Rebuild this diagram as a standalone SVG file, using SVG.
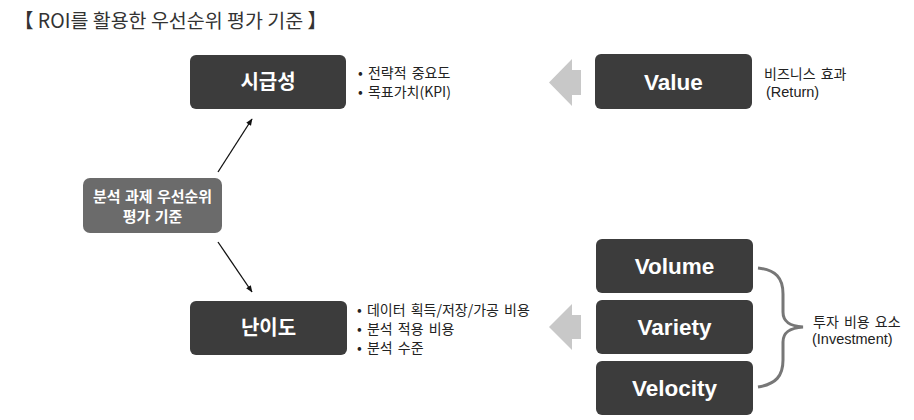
<svg xmlns="http://www.w3.org/2000/svg" width="914" height="420" viewBox="0 0 914 420">
<defs>
<marker id="ah" viewBox="0 0 10 10" refX="9" refY="5" markerWidth="7" markerHeight="7" orient="auto" markerUnits="userSpaceOnUse">
<path d="M0,1 L10,5 L0,9 z" fill="#111"/>
</marker>
</defs>
<style>
.box{fill:#3c3c3c;}
.cbox{fill:#6b6b6b;}
.kl{font-family:"Noto Sans CJK KR","Noto Sans",sans-serif;font-weight:700;font-size:20px;fill:#fff;text-anchor:middle;}
.el{font-family:"Liberation Sans",Arial,sans-serif;font-weight:700;font-size:22.5px;fill:#fff;text-anchor:middle;}
.ct{font-family:"Noto Sans CJK KR","Noto Sans",sans-serif;font-weight:700;font-size:15px;fill:#fff;text-anchor:middle;word-spacing:1px;}
.note{font-family:"Noto Sans CJK KR","Noto Sans",sans-serif;font-size:14px;fill:#222;word-spacing:2px;}
.en{font-family:"Liberation Sans",Arial,"Noto Sans CJK KR",sans-serif;font-size:14.5px;fill:#222;}
.gar{fill:#c8c8c8;}
.conn{stroke:#111;stroke-width:1.3;fill:none;}
</style>
<rect width="914" height="420" fill="#fff"/>
<text x="14" y="28" font-family="Noto Sans CJK KR, Noto Sans, sans-serif" font-size="19.5" fill="#333">【 ROI를 활용한 우선순위 평가 기준 】</text>

<g id="center">
<rect class="cbox" x="83" y="178" width="139" height="55" rx="7"/>
<text class="ct" x="152.5" y="202">분석 과제 우선순위</text>
<text class="ct" x="152.5" y="222">평가 기준</text>
</g>

<g id="urgency">
<rect class="box" x="190" y="55" width="156" height="54" rx="6"/>
<text class="kl" x="268" y="89">시급성</text>
<text class="note" x="358" y="78">• 전략적 중요도</text>
<text class="note" x="358" y="97">• 목표가치(KPI)</text>
</g>

<g id="difficulty">
<rect class="box" x="190" y="301" width="157" height="54" rx="6"/>
<text class="kl" x="268.5" y="335">난이도</text>
<text class="note" x="357" y="315">• 데이터 획득/저장/가공 비용</text>
<text class="note" x="357" y="334">• 분석 적용 비용</text>
<text class="note" x="357" y="353">• 분석 수준</text>
</g>

<g id="value">
<rect class="box" x="595" y="54" width="157" height="55" rx="6"/>
<text class="el" x="673.5" y="89.5">Value</text>
<text class="note" x="764" y="79">비즈니스 효과</text>
<text class="en" x="766" y="97">(Return)</text>
</g>

<g id="volume">
<rect class="box" x="596" y="239" width="157" height="54" rx="6"/>
<text class="el" x="674.5" y="274">Volume</text>
</g>
<g id="variety">
<rect class="box" x="596" y="300" width="157" height="54" rx="6"/>
<text class="el" x="674.5" y="335">Variety</text>
</g>
<g id="velocity">
<rect class="box" x="596" y="361" width="157" height="54" rx="6"/>
<text class="el" x="674.5" y="396">Velocity</text>
</g>

<g id="investment">
<path d="M758,268 C776,270 783,278 783,294 L783,312 C783,322 790,326 803,327 C790,328 783,332 783,342 L783,360 C783,376 776,384 758,387" fill="none" stroke="#777" stroke-width="3"/>
<text class="note" x="813" y="327">투자 비용 요소</text>
<text class="en" x="812" y="344">(Investment)</text>
</g>

<g id="connectors">
<line class="conn" x1="218" y1="172" x2="252" y2="119" marker-end="url(#ah)"/>
<line class="conn" x1="218" y1="242" x2="252" y2="292" marker-end="url(#ah)"/>
<polygon class="gar" points="549,82.5 572,59 572,70 581,70 581,95 572,95 572,106"/>
<polygon class="gar" points="549,327 572,304 572,315 581,315 581,339 572,339 572,350"/>
</g>
</svg>
